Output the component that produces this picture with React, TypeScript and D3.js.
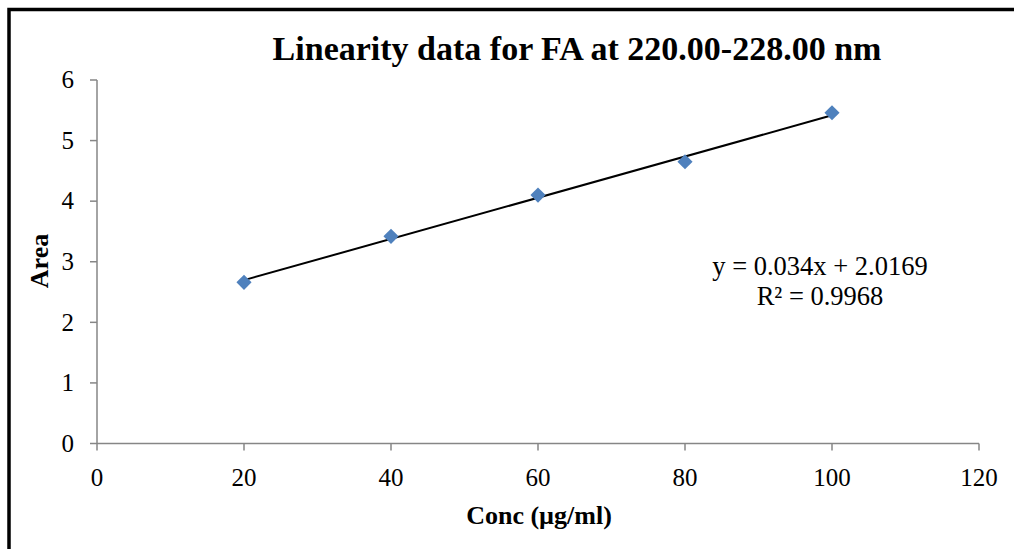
import React from "react";
import * as d3 from "d3";

const concValues = [20, 40, 60, 80, 100];
const areaValues = [2.66, 3.42, 4.1, 4.65, 5.46];
const xTicks = [0, 20, 40, 60, 80, 100, 120];
const yTicks = [0, 1, 2, 3, 4, 5, 6];
const fitSlope = 0.034;
const fitIntercept = 2.0169;
const equationText = "y = 0.034x + 2.0169";
const r2Text = "R² = 0.9968";
const titleText = "Linearity data for FA at 220.00-228.00 nm";
const xTitle = "Conc (µg/ml)";
const yTitle = "Area";

export default function App() {
  const W = 1014;
  const H = 549;
  const x = d3.scaleLinear().domain([0, 120]).range([97, 979]);
  const y = d3.scaleLinear().domain([0, 6]).range([443.5, 80]);
  const font = "'Liberation Serif', 'Times New Roman', serif";
  const axisColor = "#868686";
  const fitX = [concValues[0], concValues[concValues.length - 1]];
  const line = d3
    .line<number>()
    .x((d) => x(d))
    .y((d) => y(fitSlope * d + fitIntercept));
  const marker = d3.symbol(d3.symbolSquare, 115)();
  return (
    <svg
      width={W}
      height={H}
      style={{ position: "absolute", left: 0, top: 0, background: "#fff" }}
    >
      <rect x={0} y={0} width={W} height={H} fill="#fff" />
      <rect
        x={9}
        y={9.5}
        width={W + 20}
        height={H + 20}
        fill="none"
        stroke="#000"
        strokeWidth={3.5}
      />
      <text
        x={577}
        y={60}
        textAnchor="middle"
        fontFamily={font}
        fontWeight="bold"
        fontSize={34}
      >
        {titleText}
      </text>
      <line x1={x(0)} x2={x(0)} y1={y(6)} y2={y(0)} stroke={axisColor} strokeWidth={1.5} />
      <line x1={x(0)} x2={x(120)} y1={y(0)} y2={y(0)} stroke={axisColor} strokeWidth={1.5} />
      {yTicks.map((t) => (
        <g key={"y" + t}>
          <line x1={x(0) - 7} x2={x(0)} y1={y(t)} y2={y(t)} stroke={axisColor} strokeWidth={1.5} />
          <text
            x={74}
            y={y(t)}
            dy="0.33em"
            textAnchor="end"
            fontFamily={font}
            fontSize={25}
          >
            {t}
          </text>
        </g>
      ))}
      {xTicks.map((t) => (
        <g key={"x" + t}>
          <line x1={x(t)} x2={x(t)} y1={y(0)} y2={y(0) + 7} stroke={axisColor} strokeWidth={1.5} />
          <text
            x={x(t)}
            y={486}
            textAnchor="middle"
            fontFamily={font}
            fontSize={25}
          >
            {t}
          </text>
        </g>
      ))}
      <text
        x={539}
        y={524}
        textAnchor="middle"
        fontFamily={font}
        fontWeight="bold"
        fontSize={26}
      >
        {xTitle}
      </text>
      <text
        transform={`translate(48, 261) rotate(-90)`}
        textAnchor="middle"
        fontFamily={font}
        fontWeight="bold"
        fontSize={26}
      >
        {yTitle}
      </text>
      <path d={line(fitX) || ""} fill="none" stroke="#000" strokeWidth={2} />
      {concValues.map((c, i) => (
        <path
          key={"p" + i}
          d={marker || ""}
          transform={`translate(${x(c)}, ${y(areaValues[i])}) rotate(45)`}
          fill="#4F81BD"
        />
      ))}
      <text x={820} y={275} textAnchor="middle" fontFamily={font} fontSize={26.5}>
        {equationText}
      </text>
      <text x={820} y={305} textAnchor="middle" fontFamily={font} fontSize={26.5}>
        {r2Text}
      </text>
    </svg>
  );
}
